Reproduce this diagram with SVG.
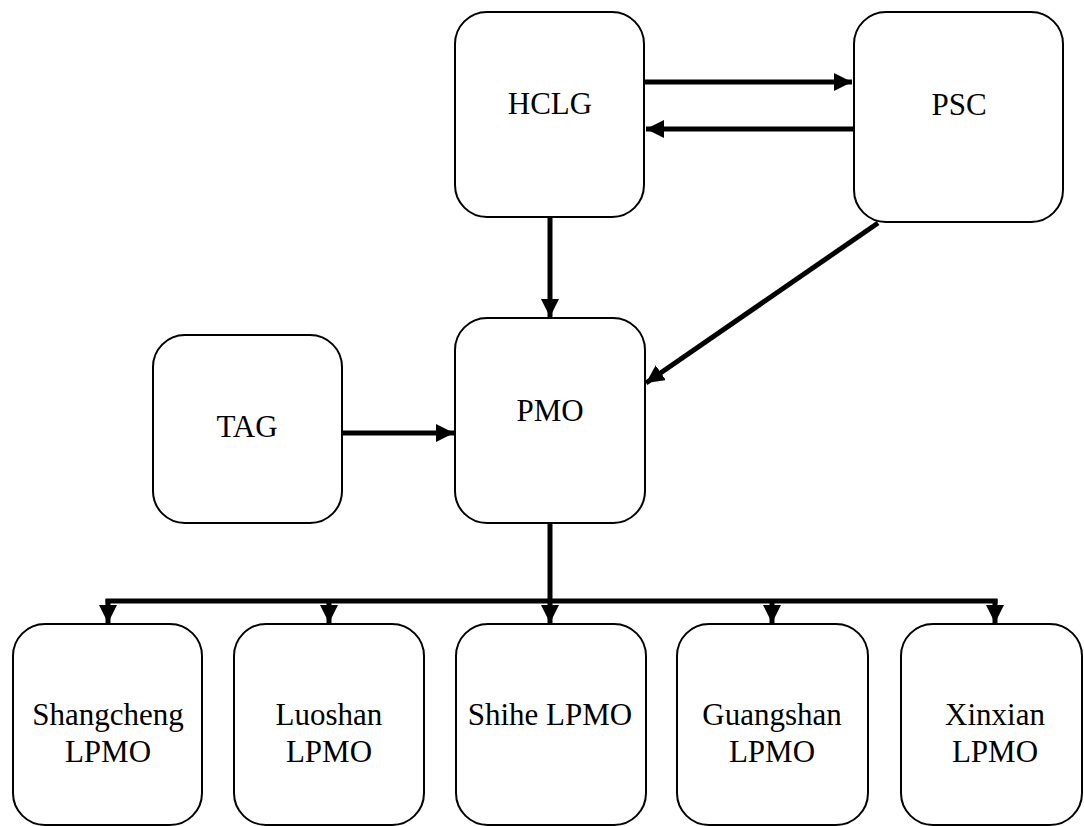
<svg xmlns="http://www.w3.org/2000/svg" width="1084" height="826" viewBox="0 0 1084 826">
<style>
.box{fill:#fff;stroke:#000;stroke-width:2}
.lbl{font-family:"Liberation Serif","Times New Roman",serif;font-size:31px;fill:#000;text-anchor:middle}
.con{fill:none;stroke:#000;stroke-width:5}
</style>
<defs>
<marker id="ah" markerUnits="userSpaceOnUse" markerWidth="20" markerHeight="20" refX="18" refY="9" orient="auto">
<path d="M0,0 L18,9 L0,18 Z" fill="#000"/>
</marker>
</defs>
<rect width="1084" height="826" fill="#fff"/>
<g id="connectors">
<line class="con" x1="644" y1="82" x2="852" y2="82" marker-end="url(#ah)"/>
<line class="con" x1="854" y1="129" x2="646" y2="129" marker-end="url(#ah)"/>
<line class="con" x1="550" y1="217" x2="550" y2="317" marker-end="url(#ah)"/>
<line class="con" x1="878" y1="223" x2="646" y2="383" marker-end="url(#ah)"/>
<line class="con" x1="342" y1="433" x2="454" y2="433" marker-end="url(#ah)"/>
<line class="con" x1="550" y1="523" x2="550" y2="601"/>
<line class="con" x1="105.5" y1="601" x2="997.5" y2="601"/>
<line class="con" x1="108" y1="599" x2="108" y2="623" marker-end="url(#ah)"/>
<line class="con" x1="329" y1="601" x2="329" y2="623" marker-end="url(#ah)"/>
<line class="con" x1="550" y1="601" x2="550" y2="623" marker-end="url(#ah)"/>
<line class="con" x1="772" y1="601" x2="772" y2="623" marker-end="url(#ah)"/>
<line class="con" x1="995" y1="599" x2="995" y2="623" marker-end="url(#ah)"/>
</g>
<g id="HCLG"><rect class="box" x="455" y="12" width="189" height="205" rx="32"/><text class="lbl" x="550" y="114">HCLG</text></g>
<g id="PSC"><rect class="box" x="854" y="12" width="209" height="210" rx="32"/><text class="lbl" x="959" y="115">PSC</text></g>
<g id="PMO"><rect class="box" x="455" y="318" width="190" height="205" rx="32"/><text class="lbl" x="550" y="421">PMO</text></g>
<g id="TAG"><rect class="box" x="153" y="335" width="189" height="188" rx="32"/><text class="lbl" x="247" y="437">TAG</text></g>
<g id="Shangcheng"><rect class="box" x="13" y="624" width="189" height="201" rx="32"/><text class="lbl" x="108" y="725">Shangcheng</text><text class="lbl" x="108" y="762">LPMO</text></g>
<g id="Luoshan"><rect class="box" x="234" y="624" width="190" height="201" rx="32"/><text class="lbl" x="329" y="725">Luoshan</text><text class="lbl" x="329" y="762">LPMO</text></g>
<g id="Shihe"><rect class="box" x="456" y="624" width="190" height="201" rx="32"/><text class="lbl" x="550" y="725">Shihe LPMO</text></g>
<g id="Guangshan"><rect class="box" x="677" y="624" width="191" height="201" rx="32"/><text class="lbl" x="772" y="725">Guangshan</text><text class="lbl" x="772" y="762">LPMO</text></g>
<g id="Xinxian"><rect class="box" x="901" y="624" width="181" height="201" rx="32"/><text class="lbl" x="995" y="725">Xinxian</text><text class="lbl" x="995" y="762">LPMO</text></g>
</svg>
